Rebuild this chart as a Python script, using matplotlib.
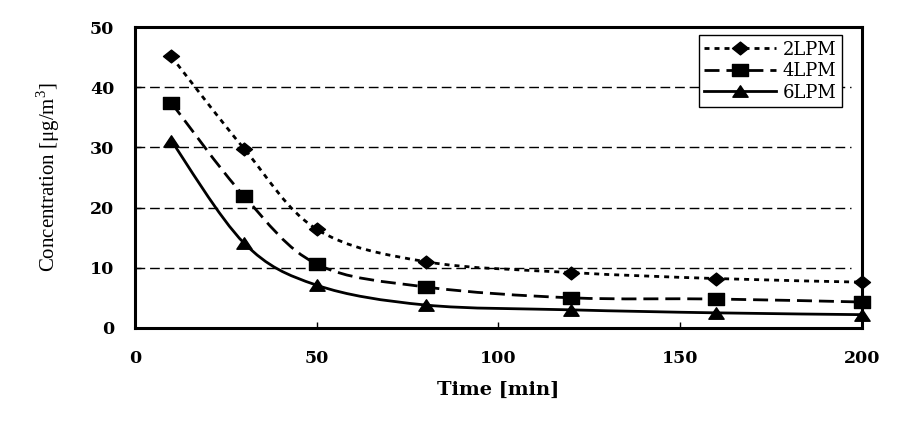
import matplotlib
matplotlib.use("Agg")
import numpy as np
from matplotlib import pyplot as plt
from matplotlib.path import Path
from matplotlib.patches import PathPatch
from matplotlib.lines import Line2D

time_min = [10, 30, 50, 80, 120, 160, 200]
conc_2lpm = [45.1, 29.8, 16.4, 11.0, 9.2, 8.2, 7.6]
conc_4lpm = [37.4, 21.9, 10.6, 6.8, 5.0, 4.8, 4.3]
conc_6lpm = [31.1, 14.1, 7.1, 3.8, 3.0, 2.5, 2.2]
labels = ["2LPM", "4LPM", "6LPM"]

plt.rcParams["font.family"] = ["DejaVu Serif"]
plt.rcParams["mathtext.fontset"] = "custom"
plt.rcParams["mathtext.rm"] = "Liberation Serif"


def smooth_path(xs, ys):
    # excel-like smoothed line: catmull-rom segments as cubic beziers
    pts = np.column_stack([xs, ys]).astype(float)
    ext = np.vstack([pts[0], pts, pts[-1]])
    verts = [pts[0]]
    codes = [Path.MOVETO]
    for i in range(1, len(ext) - 2):
        p0, p1, p2, p3 = ext[i - 1], ext[i], ext[i + 1], ext[i + 2]
        verts += [p1 + (p2 - p0) / 6, p2 - (p3 - p1) / 6, p2]
        codes += [Path.CURVE4] * 3
    return Path(verts, codes)


# markers in the original are a bit wider than tall
diamond = Path([(-1, 0), (0, 0.8), (1, 0), (0, -0.8), (-1, 0)], closed=True)
square = Path([(-1, -0.75), (1, -0.75), (1, 0.75), (-1, 0.75), (-1, -0.75)],
              closed=True)
triangle = Path([(-1, -0.75), (1, -0.75), (0, 0.75), (-1, -0.75)], closed=True)

fig = plt.figure(figsize=(9.09, 4.22), dpi=100)
ax = fig.add_axes([0.1485, 0.223, 0.7995, 0.713])

lw = 2.0
styles = [
    dict(marker=diamond, ms=11.5, ls=(0, (1.8, 1.8))),
    dict(marker=square, ms=11, ls=(0, (5.4, 2.5))),
    dict(marker=triangle, ms=11, ls="-"),
]
handles = []
for ys, st, lab in zip([conc_2lpm, conc_4lpm, conc_6lpm], styles, labels):
    ax.add_patch(PathPatch(smooth_path(time_min, ys), fill=False,
                           edgecolor="black", lw=lw, linestyle=st["ls"],
                           zorder=3, clip_on=False))
    ax.plot(time_min, ys, ls="none", marker=st["marker"], ms=st["ms"],
            color="black", zorder=4, clip_on=False)
    handles.append(Line2D([], [], color="black", lw=lw, ls=st["ls"],
                          marker=st["marker"], ms=st["ms"]))

ax.set_xlim(0, 200)
ax.set_ylim(0, 50)
ax.set_xticks([0, 50, 100, 150, 200])
ax.set_yticks([0, 10, 20, 30, 40, 50])
for y in [10, 20, 30, 40]:
    ax.plot([0, 197], [y, y], color="black", lw=1.0, ls=(0, (7, 3.5)),
            zorder=1)

for side in ax.spines:
    ax.spines[side].set_linewidth(2.2)

ax.tick_params(axis="both", direction="in", length=4.5, width=1,
               labelsize=12.5)
ax.tick_params(axis="x", pad=16)
ax.tick_params(axis="y", pad=15)
for t in ax.get_xticklabels() + ax.get_yticklabels():
    t.set_fontweight("bold")

ax.set_xlabel("Time [min]", fontsize=14, fontweight="bold")
ax.xaxis.set_label_coords(0.5, -0.175)
ax.set_ylabel("Concentration [μg/m$^3$]", fontsize=15,
              family="Liberation Serif")
ax.yaxis.set_label_coords(-0.1, 0.5)

leg = ax.legend(handles, labels, loc="upper right",
                bbox_to_anchor=(0.9725, 0.973), fontsize=13,
                handlelength=4.0, fancybox=False, framealpha=1,
                edgecolor="black", borderpad=0.3, labelspacing=0.2,
                handletextpad=0.35, borderaxespad=0)
leg.get_frame().set_linewidth(1.0)

fig.savefig("out.png", dpi=100)
